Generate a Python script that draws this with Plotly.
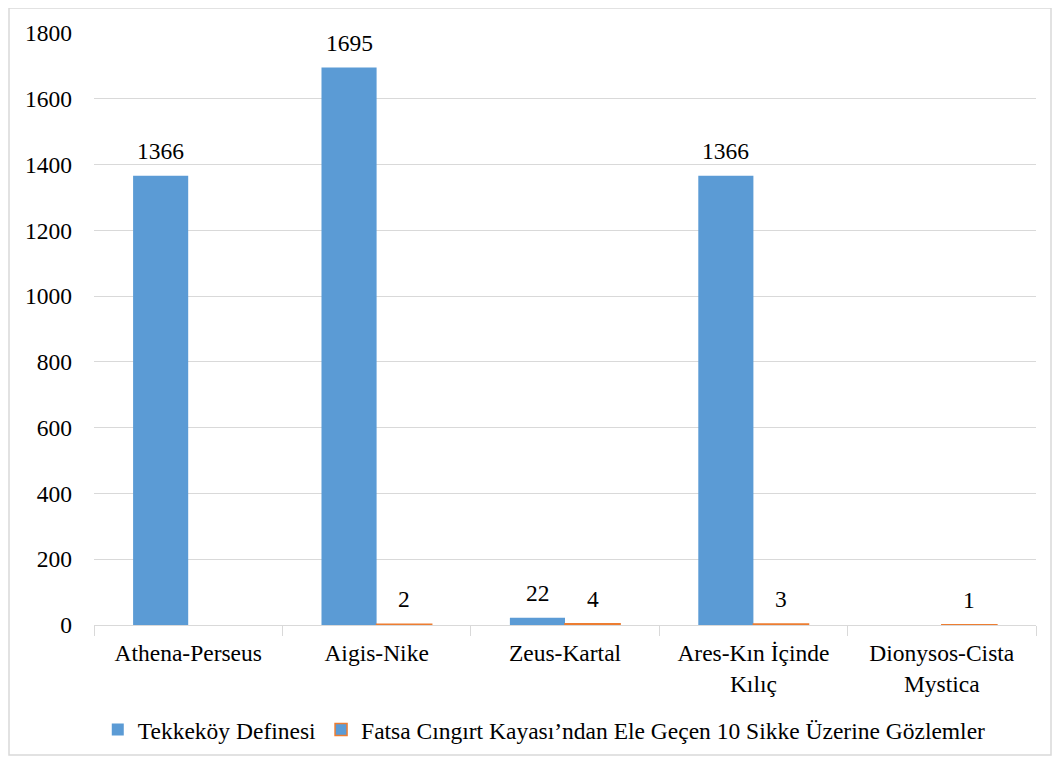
import plotly.graph_objects as go

categories = ["Athena-Perseus", "Aigis-Nike", "Zeus-Kartal", "Ares-Kın İçinde<br>Kılıç", "Dionysos-Cista<br>Mystica"]
tekkekoy = [1366, 1695, 22, 1366, None]
fatsa = [None, 2, 4, 3, 1]
series_names = ["Tekkeköy Definesi", "Fatsa Cıngırt Kayası’ndan Ele Geçen 10 Sikke Üzerine Gözlemler"]
y_ticks = [0, 200, 400, 600, 800, 1000, 1200, 1400, 1600, 1800]

FONT = "Times New Roman, Liberation Serif, serif"
BLUE = "#5B9BD5"
ORANGE = "#ED7D31"
GRID = "#D9D9D9"


def txt(size=23.5):
    return dict(family=FONT, size=size, color="#000000")


fig = go.Figure()
fig.add_trace(go.Bar(
    x=categories, y=tekkekoy, name=series_names[0],
    marker=dict(color=BLUE, line=dict(width=0)),
))
fig.add_trace(go.Bar(
    x=categories, y=fatsa, name=series_names[1],
    marker=dict(color=BLUE, line=dict(color=ORANGE, width=1.5)),
))

# value labels above the bars (blue on the left half of a group, orange on the right)
for vals, shift in ((tekkekoy, -27.5), (fatsa, 27.5)):
    for cat, v in zip(categories, vals):
        if v is None:
            continue
        fig.add_annotation(
            x=cat, y=v, text=str(v), showarrow=False, xshift=shift, yshift=10,
            yanchor="bottom", font=txt(),
        )

# body margin of the page offsets the figure by 8px
fig.update_layout(
    width=1052, height=762,
    margin=dict(l=86, r=24, t=25, b=145),
    paper_bgcolor="white", plot_bgcolor="white",
    font=txt(),
    barmode="group", bargap=0.415, bargroupgap=0,
    legend=dict(
        orientation="h", x=0.478, xanchor="center", y=-0.177, yanchor="middle",
        font=txt(), itemwidth=30, traceorder="normal",
    ),
    showlegend=True,
)
fig.update_yaxes(
    range=[0, 1800], tickvals=y_ticks, showgrid=True, gridcolor=GRID, gridwidth=1,
    zeroline=False, showline=False, ticks="", ticklabelstandoff=21,
    tickfont=txt(),
)
fig.update_xaxes(
    showline=True, linecolor=GRID, linewidth=1, ticks="outside", tickson="boundaries",
    ticklen=10, tickcolor=GRID, tickwidth=1, tickfont=txt(), ticklabelstandoff=7,
)

# outer chart border
fig.add_shape(
    type="rect", xref="paper", yref="paper",
    x0=-85 / 942, x1=957 / 942,
    y0=-130 / 592, y1=617 / 592,
    line=dict(color=GRID, width=1.5), fillcolor="rgba(0,0,0,0)", layer="below",
)

fig.write_html("out.html")
